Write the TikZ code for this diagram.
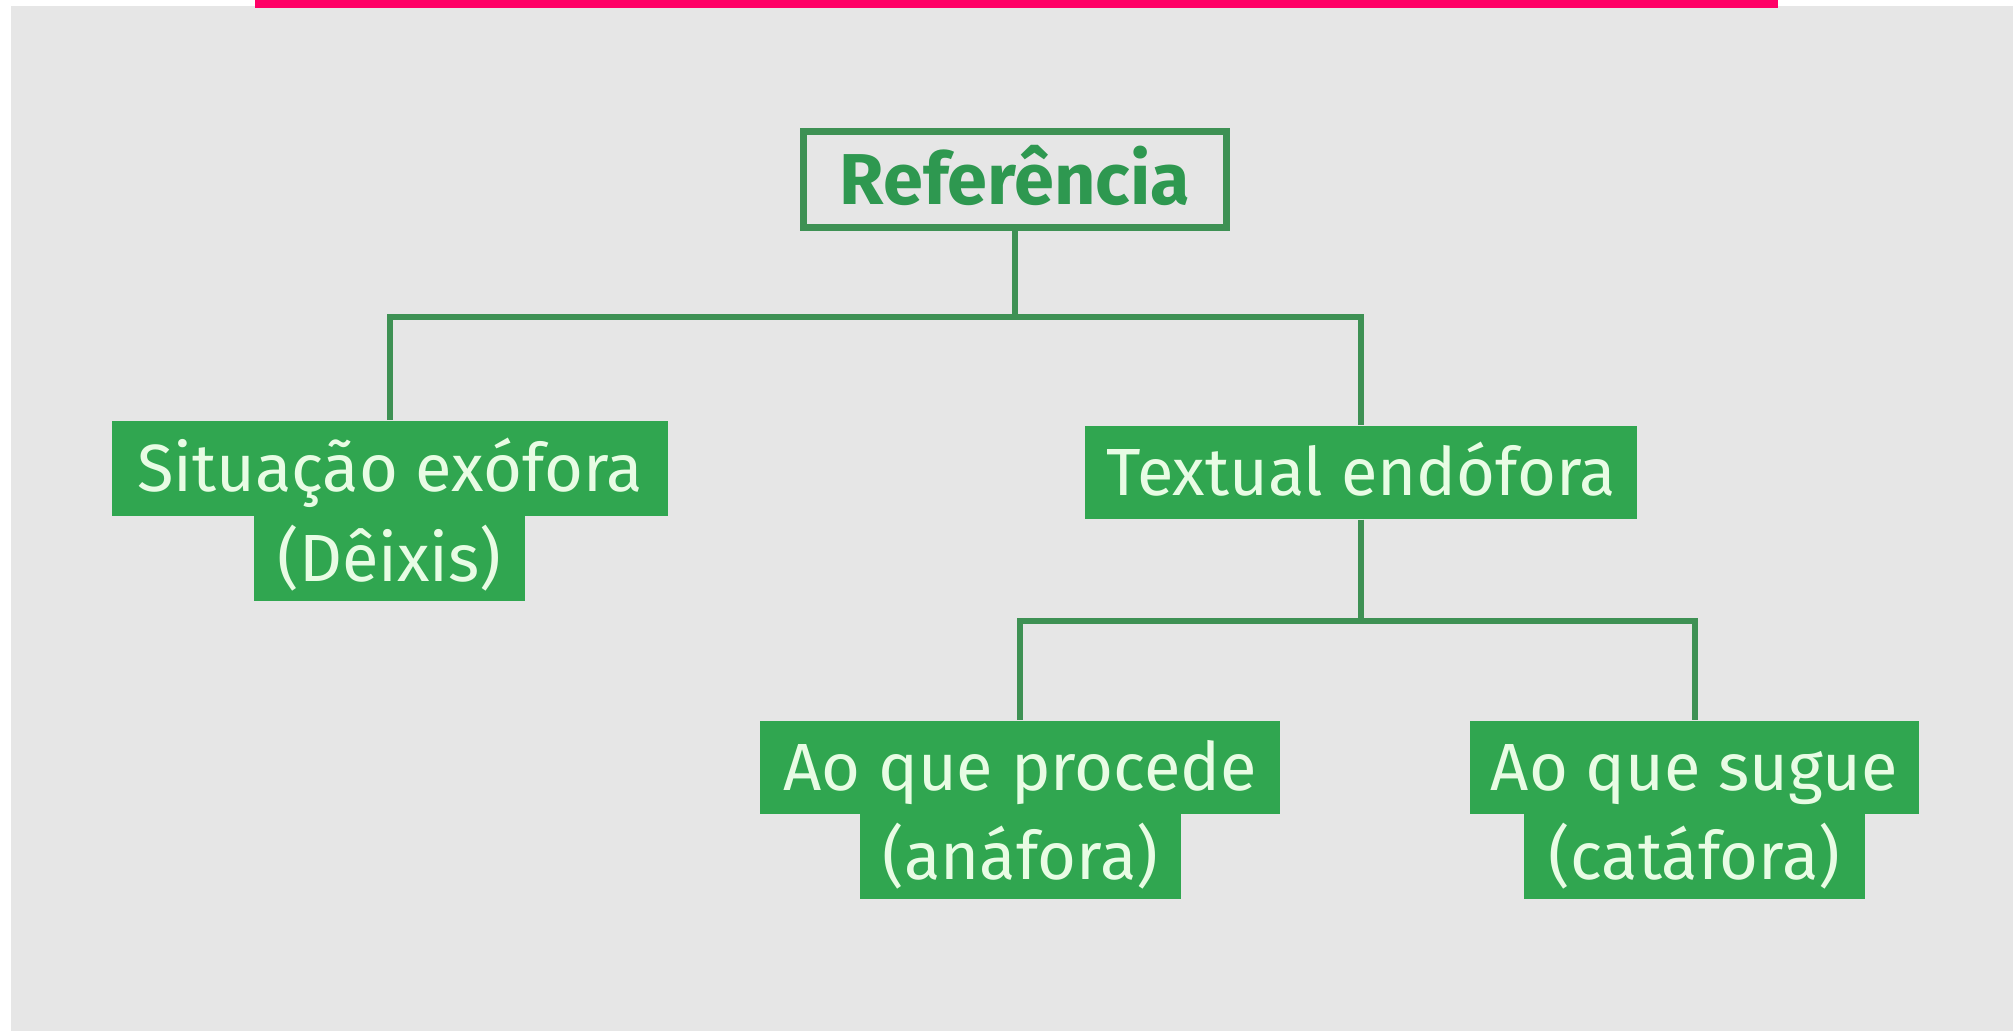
\documentclass[tikz,border=0pt]{standalone}
\usepackage{fontspec}
\setmainfont{Fira Sans}
\definecolor{boxgreen}{RGB}{48,166,80}
\definecolor{linegreen}{RGB}{62,145,84}
\definecolor{refgreen}{RGB}{46,152,80}
\definecolor{palegreen}{RGB}{232,252,228}
\definecolor{panelgray}{RGB}{230,230,230}
\definecolor{barpink}{RGB}{255,0,102}

\begin{document}
\begin{tikzpicture}[
  tag/.style={fill=boxgreen,text=palegreen,font=\fontsize{19}{23}\selectfont,
    inner sep=0pt,text height=13.1pt,text depth=0pt},
  link/.style={draw=linegreen,line width=0.06cm}]
  \useasboundingbox (0,0) rectangle (20.13,-10.31);
  \fill[panelgray] (0.11,-0.06) rectangle (20.13,-10.31);
  \fill[barpink] (2.55,0) rectangle (17.78,-0.08);
  % top box
  \node[draw=linegreen,line width=0.07cm,text=refgreen,
    font=\fontsize{20.5}{24}\selectfont\bfseries,inner sep=0pt,
    text height=14.1pt,text depth=0pt,
    minimum width=4.23cm,minimum height=0.96cm] (ref) at (10.15,-1.795) {Referência};
  % left branch
  \node[tag,minimum width=5.56cm,minimum height=0.95cm] (exo) at (3.90,-4.685) {Situação exófora};
  \node[tag,minimum width=2.71cm,minimum height=0.85cm] (exob) at (3.895,-5.585) {(Dêixis)};
  % right branch
  \node[tag,minimum width=5.52cm,minimum height=0.93cm] (endo) at (13.61,-4.725) {Textual endófora};
  \node[tag,minimum width=5.20cm,minimum height=0.93cm] (ana) at (10.20,-7.675) {Ao que procede};
  \node[tag,minimum width=3.21cm,minimum height=0.85cm] (anab) at (10.205,-8.565) {(anáfora)};
  \node[tag,minimum width=4.49cm,minimum height=0.93cm] (cat) at (16.945,-7.675) {Ao que sugue};
  \node[tag,minimum width=3.41cm,minimum height=0.85cm] (catb) at (16.945,-8.565) {(catáfora)};
  % connectors
  \coordinate (split1) at (10.15,-3.17);
  \draw[link] (ref.south) -- (split1) -| (exo.north);
  \draw[link] (split1) -| (endo.north);
  \coordinate (split2) at (13.61,-6.21);
  \draw[link] (endo.south) -- (split2) -| (ana.north);
  \draw[link] (split2) -| (cat.north);
\end{tikzpicture}
\end{document}
